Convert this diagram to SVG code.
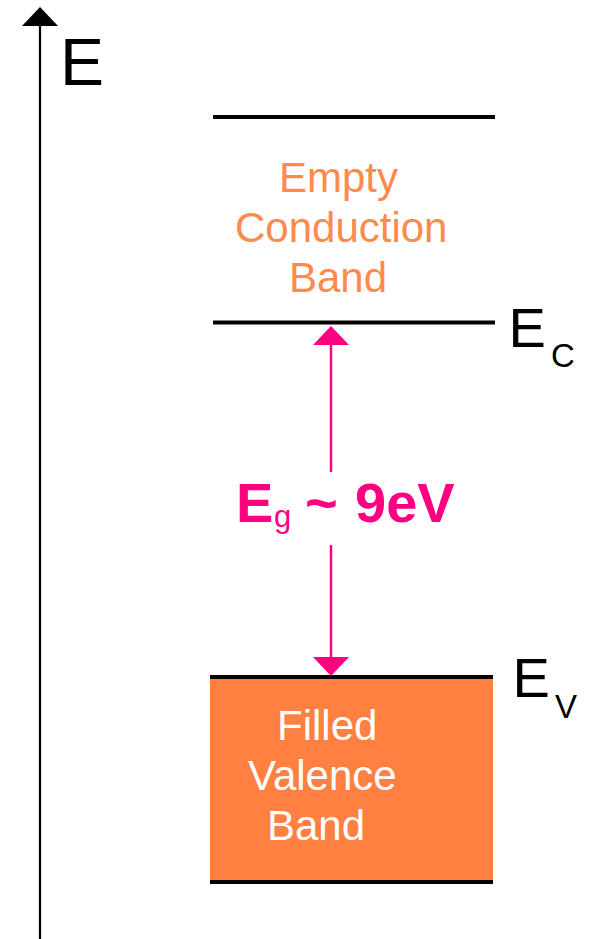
<svg xmlns="http://www.w3.org/2000/svg" width="591" height="939" viewBox="0 0 591 939">
<style>
.lvl{stroke:#000;stroke-width:4;fill:none}
.cb{font-family:"Liberation Sans",Arial,sans-serif;font-size:42px;fill:#FF8A4E}
.vb{font-family:"Liberation Sans",Arial,sans-serif;font-size:42px;fill:#FFFFFF}
.lab{font-family:"Liberation Sans",Arial,sans-serif;fill:#000}
.gap{font-family:"Liberation Sans",Arial,sans-serif;fill:#FF0080}
</style>
<defs>
<marker id="ahK" markerUnits="userSpaceOnUse" viewBox="0 0 19 36" markerWidth="19" markerHeight="36" refX="0" refY="18" orient="auto"><path d="M0,0 L19,18 L0,36 Z" fill="#000"/></marker>
<marker id="ahP" markerUnits="userSpaceOnUse" viewBox="0 0 19 36" markerWidth="19" markerHeight="36" refX="0" refY="18" orient="auto"><path d="M0,0 L19,18 L0,36 Z" fill="#FF0080"/></marker>
</defs>
<rect width="591" height="939" fill="#fff"/>
<g id="energy-axis">
<text class="lab" x="60" y="85" font-size="66">E</text>
</g>
<g id="conduction-band">
<line class="lvl" x1="213" y1="117" x2="495" y2="117"/>
<line class="lvl" x1="213" y1="322.5" x2="495" y2="322.5"/>
<text class="cb" x="279" y="192">Empty</text>
<text class="cb" x="235" y="242">Conduction</text>
<text class="cb" x="289" y="292">Band</text>
<text class="lab" x="508.5" y="347" font-size="56">E</text>
<text class="lab" x="551" y="367" font-size="33">C</text>
</g>
<g id="valence-band">
<rect x="210" y="677" width="283" height="205" fill="#FF8040"/>
<line class="lvl" x1="210" y1="677" x2="493" y2="677"/>
<line class="lvl" x1="210" y1="882" x2="493" y2="882"/>
<text class="vb" x="277" y="740">Filled</text>
<text class="vb" x="248" y="790">Valence</text>
<text class="vb" x="267" y="840">Band</text>
<text class="lab" x="512.5" y="697" font-size="56">E</text>
<text class="lab" x="555" y="718" font-size="33">V</text>
</g>
<g id="band-gap">
<text class="gap" x="236" y="522" font-size="56" font-weight="bold">E</text>
<text class="gap" x="274" y="527" font-size="31">g</text>
<text class="gap" x="305" y="522" font-size="56" font-weight="bold">~</text>
<text class="gap" x="355" y="522" font-size="56" font-weight="bold">9eV</text>
</g>
<g id="connectors">
<line x1="40" y1="939" x2="40" y2="26" stroke="#000" stroke-width="2.2" marker-end="url(#ahK)"/>
<line x1="331" y1="472" x2="331" y2="345" stroke="#FF0080" stroke-width="2.5" marker-end="url(#ahP)"/>
<line x1="331" y1="545" x2="331" y2="657" stroke="#FF0080" stroke-width="2.5" marker-end="url(#ahP)"/>
</g>
</svg>
